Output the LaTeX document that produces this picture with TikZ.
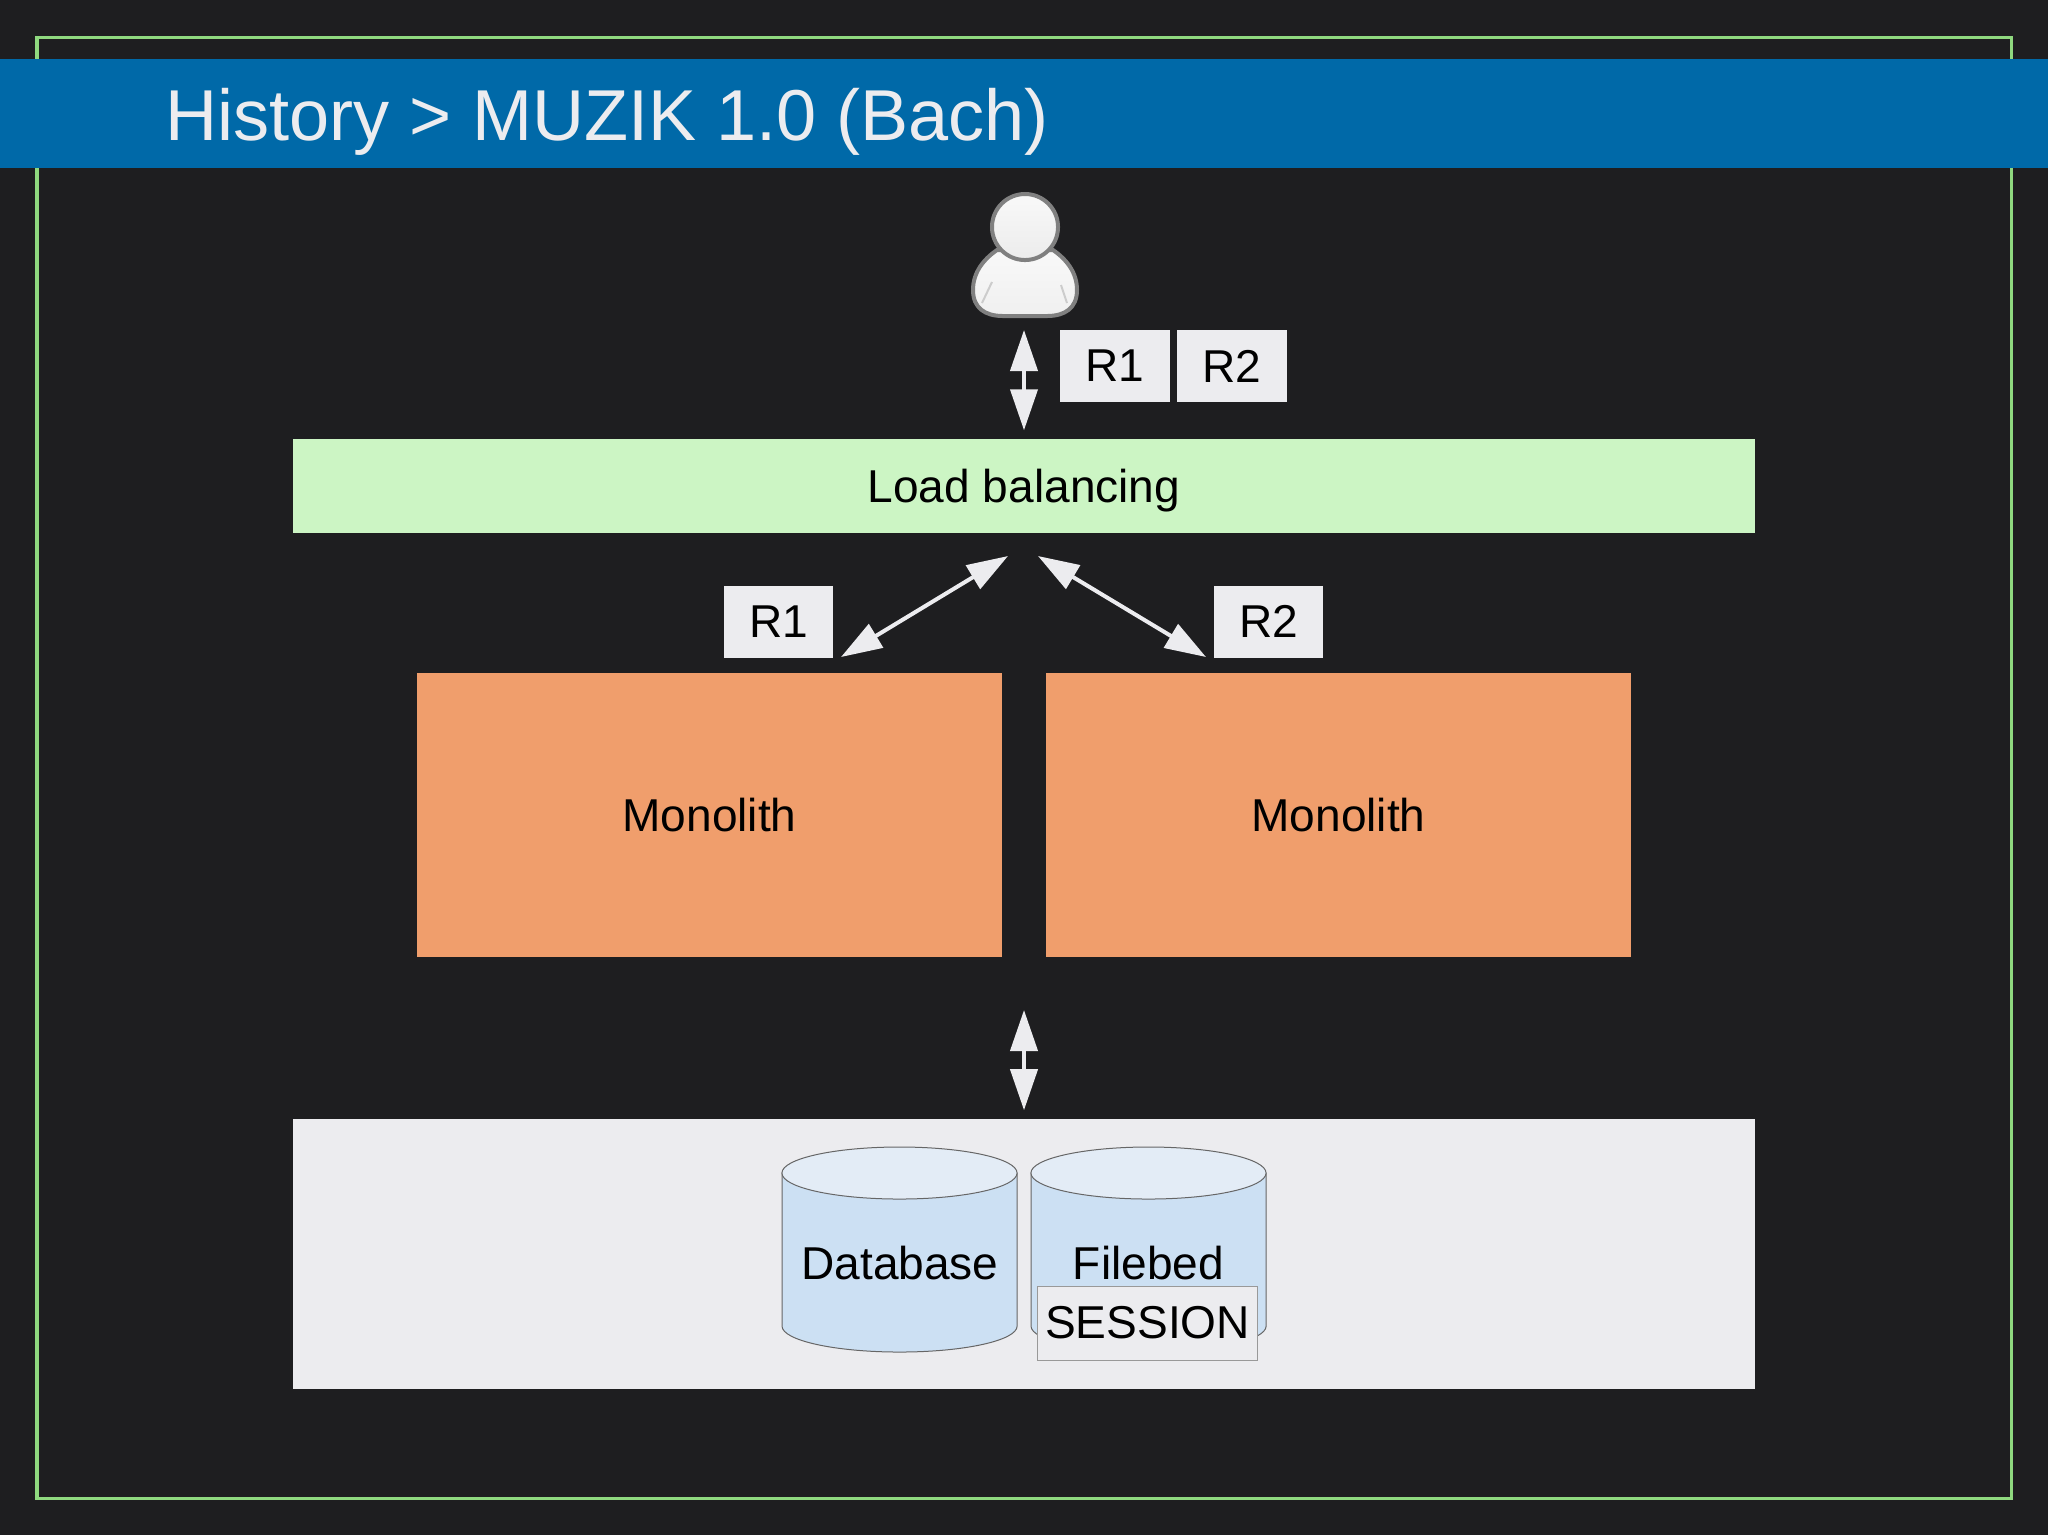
\documentclass[tikz,border=0pt]{standalone}
\usepackage{fontspec}
\setmainfont{Liberation Sans}
\definecolor{slide}{HTML}{1E1E20}
\definecolor{banner}{HTML}{0069A8}
\definecolor{framegreen}{HTML}{8FD97F}
\definecolor{paper}{HTML}{ECECEF}
\definecolor{mint}{HTML}{CCF5C4}
\definecolor{peach}{HTML}{F09E6C}
\definecolor{dbbody}{HTML}{CCE0F3}
\definecolor{dbtop}{HTML}{E3ECF6}
\usetikzlibrary{positioning, arrows.meta}

\begin{document}
\begin{tikzpicture}[
  x=0.01cm, y=-0.01cm,
  label font/.style={text=black, font=\fontsize{13.1}{16}\selectfont},
  tag/.style={fill=paper, label font, minimum width=1.09cm, minimum height=0.72cm, inner sep=0pt},
  block/.style={fill=#1, label font, inner sep=0pt},
  drum/.style={draw=gray!80!black, line width=0.1mm},
  both/.style={{Triangle[length=4.1mm, width=2.7mm]}-{Triangle[length=4.1mm, width=2.7mm]}, paper, line width=0.4mm},
]
\useasboundingbox (0,0) rectangle (2048,1535);
\fill[slide] (0,0) rectangle (2048,1535);
\draw[framegreen, line width=0.3mm] (37,37) rectangle (2011,1498);

% Header
\node[fill=banner, minimum width=20.48cm, minimum height=1.09cm, inner sep=0pt] (banner) at (1024,113.5) {};
\node[font=\fontsize{20.5}{24}\selectfont, text=paper, anchor=west, inner sep=0pt] (title) at (165,122) {History > MUZIK 1.0 (Bach)};

% User
\draw[draw=gray, line width=0.4mm, top color=white!95!gray, bottom color=white!88!gray] (997,250) .. controls (984,259) and (973,272) .. (973,290)
  .. controls (973,308) and (985,316) .. (1003,316) -- (1047,316)
  .. controls (1065,316) and (1077,308) .. (1077,290)
  .. controls (1077,272) and (1066,259) .. (1053,250) -- cycle;
\draw[gray!40, line width=0.2mm] (992,282) -- (982,303) (1061,285) -- (1067,303);
\node[circle, draw=gray, line width=0.4mm, top color=white!95!gray, bottom color=white!85!gray, minimum size=0.66cm, inner sep=0pt] (user) at (1025,227) {};
\coordinate (userfoot) at (1024,330);

% Requests
\node[tag] (reqa) at (1115,366) {R1};
\node[tag] (reqb) at (1232,366) {R2};
\node[block=mint, text depth=0pt, minimum width=14.62cm, minimum height=0.94cm] (balancer) at (1024,486) {Load balancing};
\node[tag] (reqleft) at (778.5,621.5) {R1};
\node[tag] (reqright) at (1268.5,621.5) {R2};

% Monoliths
\node[block=peach, minimum width=5.84cm, minimum height=2.84cm] (monoa) at (709.5,815) {Monolith};
\node[block=peach, minimum width=5.84cm, minimum height=2.84cm] (monob) at (1338.5,815) {Monolith};

% Storage
\node[block=paper, minimum width=14.62cm, minimum height=2.7cm] (store) at (1024,1254) {};
\foreach \cx in {899.5,1148.5} {
  \draw[drum, fill=dbbody] (\cx-117.5,1173) -- (\cx-117.5,1326) arc[start angle=180, end angle=360, x radius=1.175cm, y radius=0.26cm] -- (\cx+117.5,1173) -- cycle;
  \draw[drum, fill=dbtop] (\cx,1173) ellipse [x radius=1.175cm, y radius=0.26cm];
}
\node[label font, inner sep=0pt] (dblabel) at (900,1263) {Database};
\node[label font, inner sep=0pt] (fblabel) at (1148.5,1263) {Filebed};
\node[fill=paper, draw=gray!80, line width=0.1mm, label font, minimum width=2.2cm, minimum height=0.74cm, inner sep=0pt] (session) at (1147.5,1323) {SESSION};

% Arrows
\coordinate (splitl) at (1008,556);
\coordinate (splitr) at (1038,556);
\coordinate (tipl) at (841,657);
\coordinate (tipr) at (1206,657);
\coordinate (dbarrow) at (1024,1010);
\draw[both, shorten >=0.8mm] (userfoot) -- (userfoot |- balancer.north);
\draw[both] (splitl) -- (tipl);
\draw[both] (splitr) -- (tipr);
\draw[both, shorten >=0.8mm] (dbarrow) -- (dbarrow |- store.north);
\end{tikzpicture}
\end{document}
